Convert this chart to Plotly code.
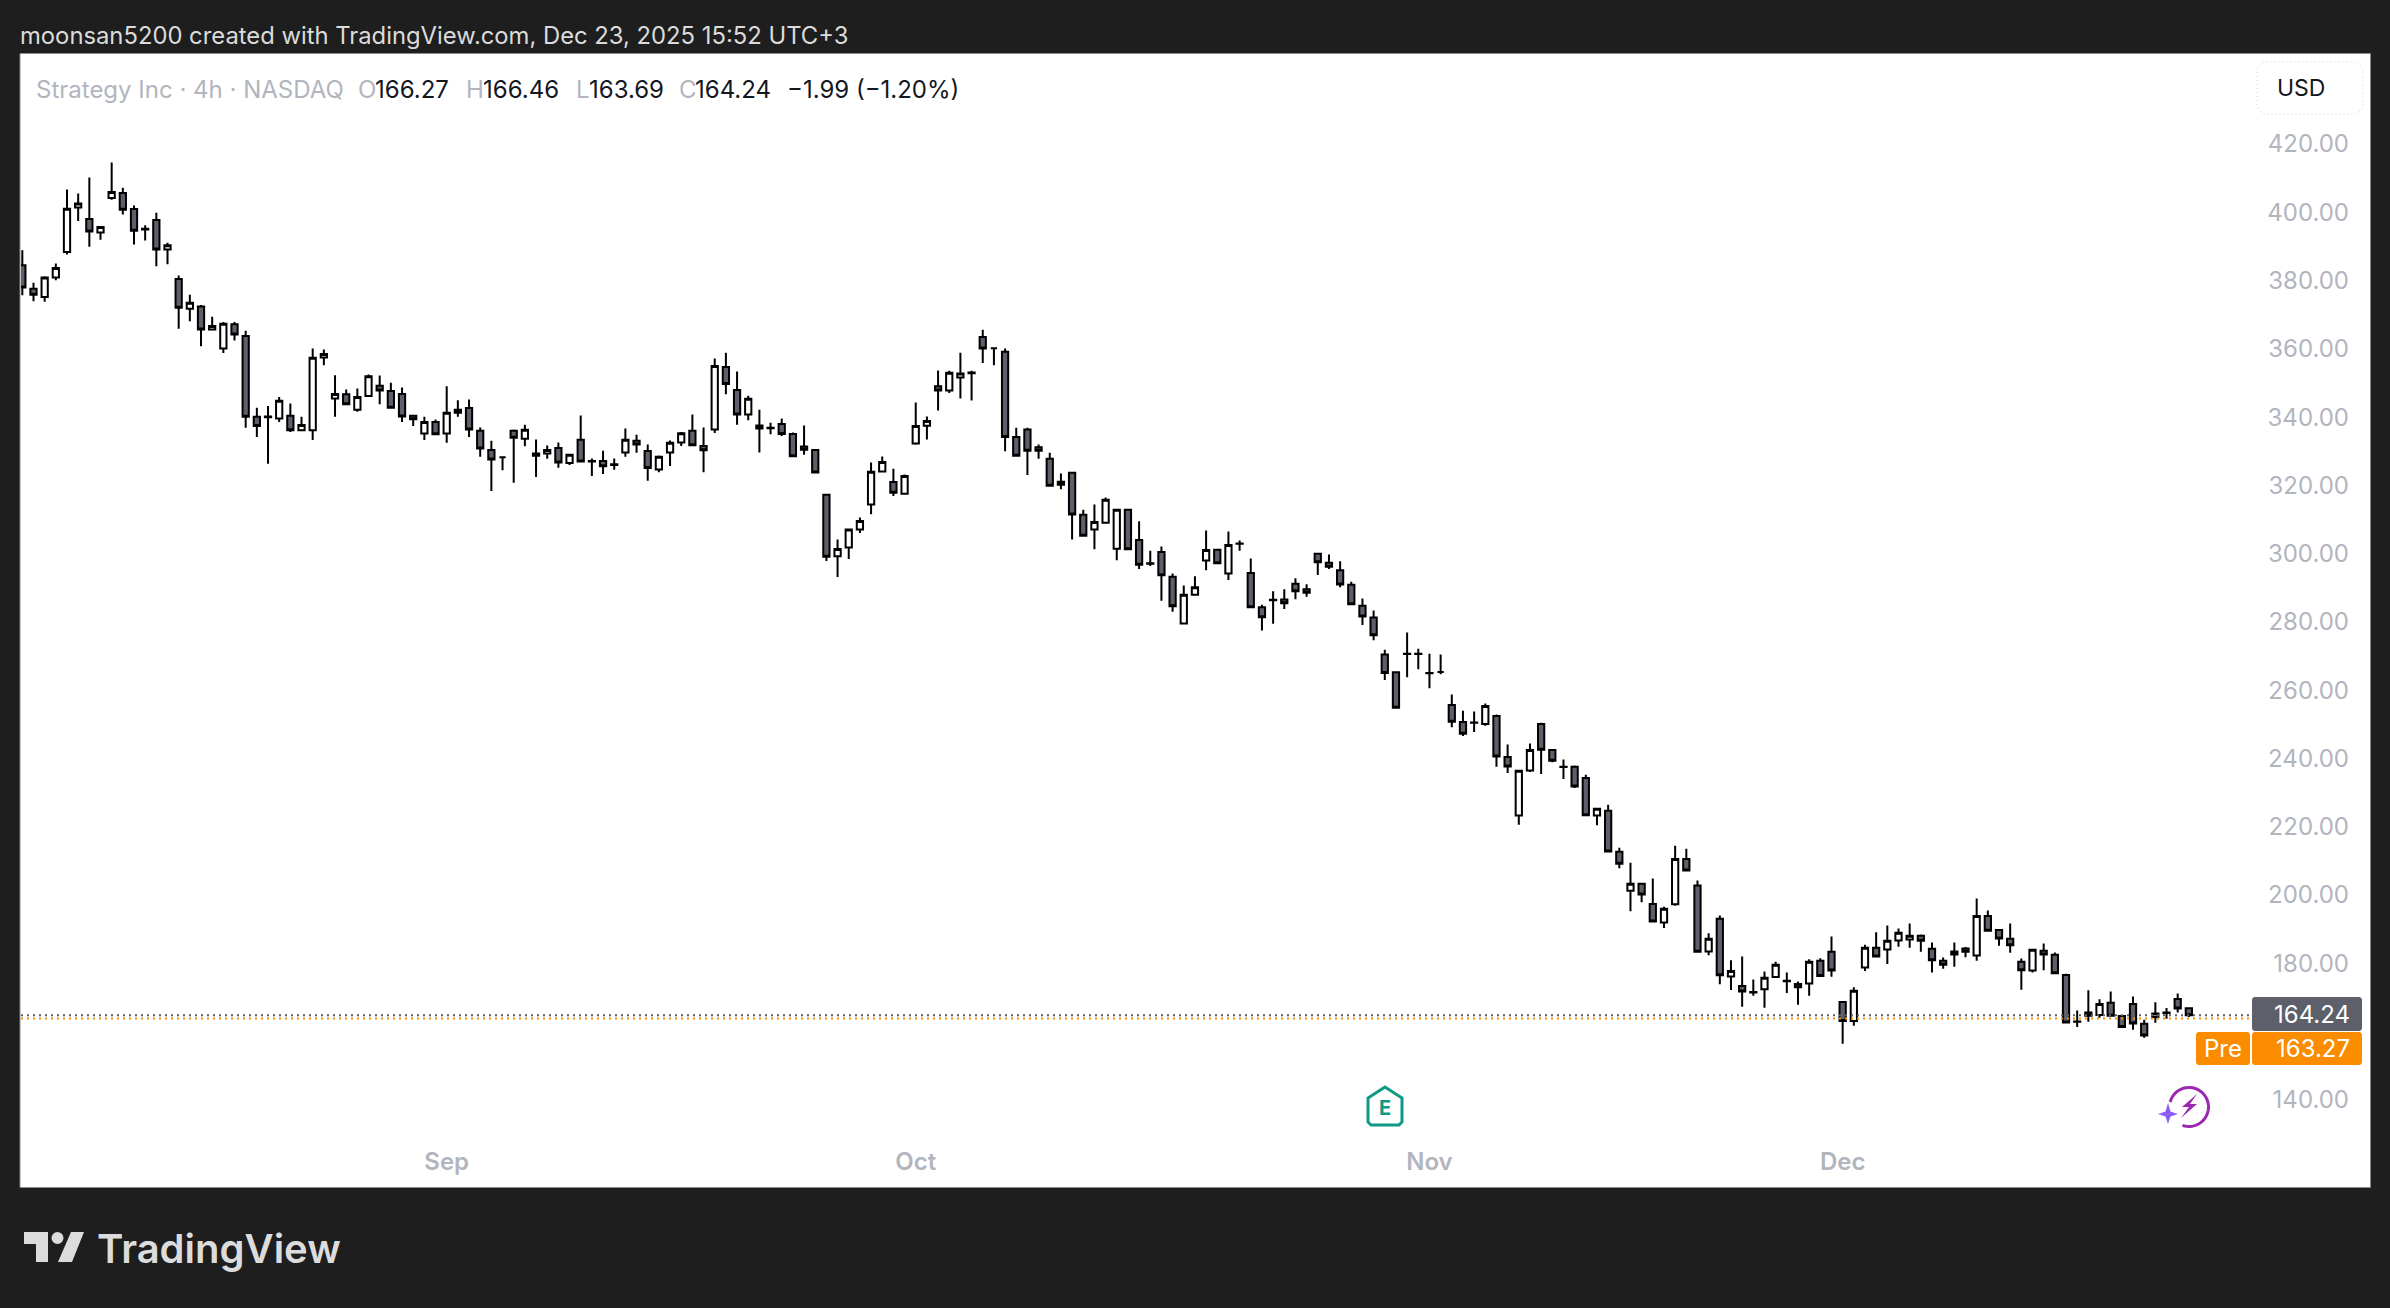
import math
import plotly.graph_objects as go

# ================================
# Data (4h bars)
# ================================
opens = [
    383.9, 377.0, 374.6, 380.3, 387.8, 400.8, 397.5, 393.5, 403.6, 405.1,
    400.4, 394.4, 397.2, 388.5, 379.9, 371.2, 371.8, 365.1, 359.5, 366.6,
    363.2, 339.5, 339.4, 339.0, 339.8, 335.6, 335.6, 356.9, 344.9, 346.1,
    341.6, 345.6, 348.6, 347.1, 346.2, 339.8, 334.6, 338.0, 334.6, 341.6,
    342.1, 335.4, 329.8, 327.7, 335.4, 333.1, 328.8, 328.8, 330.4, 326.0,
    332.8, 326.4, 326.6, 325.6, 329.1, 332.5, 329.5, 324.1, 329.1, 332.0,
    335.4, 331.0, 335.8, 354.1, 347.4, 340.2, 337.0, 336.2, 337.4, 334.5,
    330.8, 329.8, 316.7, 298.7, 301.2, 306.5, 313.8, 323.5, 320.4, 317.0,
    331.7, 336.9, 348.5, 347.2, 351.0, 352.3, 362.9, 359.6, 358.6, 333.6,
    335.8, 330.6, 327.2, 320.5, 323.1, 310.8, 306.5, 308.5, 300.9, 312.3,
    303.4, 296.6, 299.9, 292.7, 279.0, 287.4, 297.4, 300.6, 293.6, 302.3,
    293.8, 283.7, 285.8, 286.0, 290.6, 289.0, 299.4, 296.8, 294.6, 290.3,
    284.2, 280.7, 269.9, 264.7, 270.0, 270.0, 264.4, 264.8, 255.1, 250.1,
    249.9, 249.5, 251.9, 239.9, 222.7, 235.9, 249.5, 241.9, 236.9, 237.0,
    233.7, 222.7, 224.1, 212.1, 200.7, 202.7, 196.8, 191.4, 196.7, 210.0,
    202.2, 182.9, 192.5, 175.6, 172.8, 170.9, 171.8, 175.4, 174.2, 173.4,
    173.5, 180.2, 182.8, 168.1, 162.5, 178.2, 184.0, 183.5, 186.1, 186.4,
    187.5, 183.7, 180.2, 182.9, 183.8, 181.7, 193.3, 189.2, 186.6, 179.9,
    177.3, 183.1, 181.9, 176.0, 162.3, 165.0, 164.3, 167.9, 164.0, 167.5,
    161.7, 163.7, 164.9, 169.0, 166.27,
]
highs = [
    388.3, 378.8, 380.7, 384.4, 406.1, 404.9, 409.6, 395.3, 414.0, 406.6,
    401.4, 395.6, 399.3, 390.5, 380.9, 375.3, 372.3, 368.8, 367.3, 367.3,
    364.7, 342.2, 342.7, 345.3, 343.4, 339.5, 359.5, 359.2, 351.7, 347.5,
    347.8, 351.9, 351.6, 349.5, 348.1, 339.8, 339.5, 338.7, 348.5, 344.4,
    344.6, 336.4, 332.5, 327.9, 335.8, 337.2, 332.9, 331.1, 332.0, 328.7,
    339.9, 327.3, 329.6, 327.3, 336.1, 334.3, 331.4, 328.2, 332.6, 335.1,
    340.2, 336.4, 356.6, 358.3, 352.8, 345.7, 341.6, 337.8, 339.0, 334.9,
    337.0, 330.1, 317.0, 303.6, 306.8, 310.0, 326.1, 327.9, 324.3, 322.6,
    343.7, 339.6, 353.1, 353.0, 358.3, 353.0, 365.0, 359.8, 359.5, 336.3,
    336.3, 331.4, 329.0, 322.9, 323.2, 312.3, 313.8, 315.9, 312.5, 312.6,
    308.9, 300.3, 301.5, 293.6, 290.1, 292.8, 306.2, 300.6, 305.9, 303.3,
    298.0, 284.5, 288.4, 289.0, 292.2, 290.5, 299.7, 299.2, 297.2, 291.2,
    286.3, 282.8, 271.3, 264.8, 276.3, 271.6, 270.1, 269.9, 258.2, 253.4,
    253.2, 255.5, 252.3, 243.5, 235.8, 243.8, 249.9, 242.0, 239.1, 237.4,
    234.7, 225.0, 225.9, 213.3, 208.9, 202.8, 204.3, 196.0, 213.9, 213.0,
    203.7, 188.2, 193.4, 180.3, 181.4, 174.7, 177.0, 179.9, 176.7, 174.1,
    180.6, 180.9, 187.3, 168.1, 172.4, 184.9, 188.5, 190.5, 189.6, 191.1,
    187.9, 185.5, 181.1, 185.5, 184.2, 198.4, 194.9, 189.3, 191.1, 180.8,
    183.5, 185.2, 182.6, 176.4, 165.6, 171.5, 168.9, 171.2, 164.3, 169.7,
    162.9, 168.0, 166.3, 170.6, 166.46,
]
lows = [
    375.1, 373.4, 373.2, 379.5, 387.1, 396.9, 389.3, 391.4, 403.1, 398.8,
    390.0, 391.2, 383.6, 384.2, 365.3, 367.5, 360.2, 364.9, 358.2, 361.9,
    336.3, 333.6, 325.8, 338.0, 335.1, 335.6, 332.7, 354.6, 339.5, 343.1,
    341.0, 345.3, 343.2, 342.1, 338.0, 336.8, 332.7, 334.3, 331.9, 339.5,
    333.6, 327.8, 317.8, 323.9, 320.2, 330.9, 321.9, 327.2, 324.6, 325.4,
    326.3, 322.2, 322.8, 324.0, 327.8, 329.0, 320.8, 323.3, 325.1, 331.0,
    331.0, 323.3, 334.8, 346.1, 337.2, 338.5, 329.1, 334.4, 333.9, 327.8,
    328.4, 323.2, 297.3, 292.6, 297.9, 305.5, 311.0, 323.5, 316.3, 317.0,
    331.3, 332.9, 341.4, 346.5, 344.9, 344.3, 355.3, 354.6, 329.4, 328.0,
    322.5, 327.2, 319.0, 318.3, 303.6, 304.6, 300.7, 308.5, 297.5, 300.6,
    294.9, 295.8, 285.6, 282.4, 279.0, 287.3, 294.6, 296.6, 291.7, 300.3,
    283.7, 276.9, 278.9, 283.2, 286.1, 286.8, 293.2, 294.9, 289.6, 284.4,
    278.5, 274.1, 262.4, 254.3, 263.2, 265.6, 260.0, 264.1, 248.6, 246.0,
    247.2, 249.0, 237.0, 235.2, 220.0, 235.5, 234.9, 238.3, 233.4, 230.8,
    222.7, 219.9, 212.2, 207.3, 194.7, 197.3, 191.6, 189.8, 196.3, 206.5,
    182.8, 181.8, 173.3, 171.6, 166.7, 169.9, 166.4, 175.3, 170.7, 167.3,
    169.9, 175.6, 175.5, 155.9, 161.1, 177.2, 181.4, 179.2, 184.3, 184.0,
    182.8, 176.7, 177.8, 178.4, 181.2, 180.2, 188.7, 184.6, 182.5, 171.7,
    176.7, 177.4, 176.4, 162.0, 160.8, 162.3, 163.5, 163.8, 160.7, 160.0,
    157.6, 162.0, 163.2, 165.0, 163.69,
]
closes = [
    377.4, 375.3, 380.3, 383.1, 400.5, 402.0, 393.8, 395.1, 405.4, 400.2,
    394.0, 394.6, 388.5, 389.8, 371.5, 372.9, 365.1, 366.1, 366.8, 363.6,
    339.5, 336.8, 339.6, 344.2, 335.6, 337.1, 356.8, 357.9, 346.2, 343.2,
    345.3, 351.4, 347.2, 342.2, 339.6, 338.8, 338.0, 334.4, 340.7, 340.7,
    335.8, 330.2, 327.0, 327.7, 333.4, 335.7, 328.1, 329.8, 326.1, 328.4,
    326.4, 326.6, 325.0, 325.4, 332.8, 331.4, 324.5, 327.8, 331.9, 334.7,
    331.2, 329.7, 354.4, 349.1, 340.2, 344.8, 336.1, 336.3, 334.5, 328.0,
    329.9, 323.2, 298.5, 300.8, 306.5, 309.0, 323.4, 326.3, 317.3, 322.2,
    336.8, 338.3, 347.2, 352.4, 352.2, 352.5, 359.5, 359.6, 333.6, 328.1,
    329.6, 329.6, 319.3, 319.6, 310.9, 304.7, 308.7, 315.2, 312.3, 300.7,
    296.2, 296.5, 293.1, 284.0, 287.4, 289.6, 300.5, 296.6, 302.0, 302.4,
    283.7, 280.8, 285.9, 284.9, 288.4, 288.0, 296.9, 295.6, 290.4, 284.6,
    281.0, 275.5, 264.5, 254.3, 270.1, 270.1, 264.5, 264.8, 250.2, 246.7,
    250.0, 254.8, 240.0, 237.1, 235.8, 241.9, 242.0, 238.8, 237.0, 231.2,
    222.8, 224.7, 212.2, 208.6, 202.7, 199.6, 191.7, 195.4, 210.0, 206.6,
    182.8, 186.6, 175.9, 177.2, 171.2, 171.0, 175.2, 179.0, 174.3, 172.4,
    179.9, 175.7, 177.3, 162.5, 171.4, 184.0, 181.4, 186.0, 188.4, 187.5,
    186.0, 180.3, 179.0, 182.0, 182.8, 193.3, 189.0, 186.7, 184.7, 177.4,
    183.4, 182.0, 176.5, 162.1, 162.4, 164.1, 167.5, 164.1, 160.8, 161.8,
    158.3, 164.7, 165.0, 166.2, 164.24,
]
bars = list(range(len(closes)))

month_bars = [38, 80, 126, 163]
month_labels = ['Sep', 'Oct', 'Nov', 'Dec']
price_ticks = [140, 180, 200, 220, 240, 260, 280, 300, 320, 340, 360, 380, 400, 420]
last_price = 164.24
pre_price = 163.27

# ================================
# Page geometry and colours
# ================================
W, H = 2390, 1308
L, R, T, B = 21, 2370, 54, 1187
DARK = '#1e1e1e'
GREY_TXT = '#b2b5be'
BODY = '#5d606b'
ORANGE = '#fb8c00'
FONT = 'Inter'


def fx(px):
    return (px - L) / (R - L)


def fy(py):
    return (B - py) / (B - T)


def poly(points, close=True):
    d = 'M' + ' L'.join(f'{fx(x):.5f},{fy(y):.5f}' for x, y in points)
    return d + (' Z' if close else '')


def box(x0, y0, x1, y1, fill=None, line=None, width=0, dash=None, r=3, layer='above'):
    # rounded rectangle drawn in page pixels
    pts = []
    for cx, cy, a0 in [(x1 - r, y0 + r, -90), (x1 - r, y1 - r, 0), (x0 + r, y1 - r, 90), (x0 + r, y0 + r, 180)]:
        for k in range(7):
            a = math.radians(a0 + 15 * k)
            pts.append((cx + r * math.cos(a), cy + r * math.sin(a)))
    return dict(type='path', xref='paper', yref='paper', path=poly(pts), fillcolor=fill or 'rgba(0,0,0,0)',
                line=dict(color=line or 'rgba(0,0,0,0)', width=width, dash=dash or 'solid'), layer=layer)


def label(x, y, text, size=24, color='#131722', anchor='left', weight=400):
    # annotations carry about 2px of padding
    shift = {'left': -2, 'right': 2, 'center': 0}[anchor]
    return dict(xref='paper', yref='paper', x=fx(x + shift), y=fy(y), text=text, showarrow=False, xanchor=anchor,
                yanchor='middle', font=dict(family=FONT, size=size, color=color, weight=weight))


# ================================
# Chart
# ================================
fig = go.Figure(go.Candlestick(
    x=bars, open=opens, high=highs, low=lows, close=closes, hoverinfo='skip',
    whiskerwidth=0,
    increasing=dict(fillcolor='#ffffff', line=dict(color='#000000', width=2)),
    decreasing=dict(fillcolor=BODY, line=dict(color='#000000', width=2)),
))

shapes = [
    # page frame
    dict(type='rect', xref='paper', yref='paper', x0=fx(20), x1=fx(2370.5), y0=fy(1187.5), y1=fy(53.5),
         fillcolor='#ffffff', line=dict(color='#8a8a8a', width=1), layer='below'),
    # last price lines
    dict(type='line', xref='paper', yref='y', x0=0, x1=fx(2250), y0=last_price, y1=last_price,
         line=dict(color=BODY, width=2, dash='2px,4px')),
    dict(type='line', xref='paper', yref='y', x0=0, x1=fx(2250), y0=pre_price, y1=pre_price,
         line=dict(color=ORANGE, width=2, dash='2px,4px')),
    # price tags
    box(2252, 997, 2362, 1031, fill=BODY),
    box(2252, 1032, 2362, 1065, fill=ORANGE),
    box(2196, 1032, 2250, 1065, fill=ORANGE),
    # currency button
    box(2257, 62, 2363, 114, fill='#ffffff', line='#d1d4dc', width=1, dash='1px,3px', r=10),
    # earnings tag
    dict(type='path', xref='paper', yref='paper',
         path=poly([(1368, 1098), (1385, 1087), (1402, 1098), (1402, 1122), (1399, 1125), (1371, 1125), (1368, 1122)]),
         fillcolor='#ffffff', line=dict(color='#0f9a86', width=3)),
    # logo
    dict(type='path', xref='paper', yref='paper',
         path=poly([(24, 1232), (48, 1232), (48, 1262), (36, 1262), (36, 1244), (24, 1244)]),
         fillcolor='#dcdcdc', line=dict(width=0)),
    dict(type='circle', xref='paper', yref='paper', x0=fx(51.5), x1=fx(63.5), y0=fy(1244), y1=fy(1232),
         fillcolor='#dcdcdc', line=dict(width=0)),
    dict(type='path', xref='paper', yref='paper',
         path=poly([(71, 1232), (84, 1232), (72, 1262), (58, 1262)]),
         fillcolor='#dcdcdc', line=dict(width=0)),
]

# lightning icon: open ring, bolt and star
cx, cy, rad = 2189, 1107, 19.5
ring = []
for k in range(0, 46):
    a = math.radians(165 - 6.1 * k)
    ring.append((cx + rad * math.cos(a), cy - rad * math.sin(a)))
shapes.append(dict(type='path', xref='paper', yref='paper', path=poly(ring, close=False),
                   line=dict(color='#9c27b0', width=3), fillcolor='rgba(0,0,0,0)'))
shapes.append(dict(type='path', xref='paper', yref='paper',
                   path=poly([(2197, 1094), (2182, 1107), (2189, 1107), (2181, 1118), (2197, 1104), (2190, 1104)]),
                   fillcolor='#9c27b0', line=dict(width=0)))
star = [(2168, 1103), (2170.5, 1111.5), (2178, 1114), (2170.5, 1116.5), (2168, 1124), (2165.5, 1116.5), (2158, 1114), (2165.5, 1111.5)]
shapes.append(dict(type='path', xref='paper', yref='paper', path=poly(star),
                   fillcolor='#8b5cf6', line=dict(width=0)))

annotations = [
    label(20, 36, 'moonsan5200 created with TradingView.com, Dec 23, 2025 15:52 UTC+3', size=23.8, color='#dbdbdb'),
    label(36, 90, 'Strategy Inc · 4h · NASDAQ', color=GREY_TXT),
    label(358, 90, 'O', color=GREY_TXT),
    label(375, 90, '166.27'),
    label(466, 90, 'H', color=GREY_TXT),
    label(483, 90, '166.46'),
    label(576, 90, 'L', color=GREY_TXT),
    label(589, 90, '163.69'),
    label(679, 90, 'C', color=GREY_TXT),
    label(695, 90, '164.24'),
    label(787, 90, '−1.99 (−1.20%)'),
    label(2301, 88, 'USD', size=23, anchor='center'),
    label(2350, 1014, '164.24', color='#ffffff', anchor='right'),
    label(2350, 1048, '163.27', color='#ffffff', anchor='right'),
    label(2223, 1048, 'Pre', color='#ffffff', anchor='center'),
    label(1385, 1108, 'E', size=20, color='#0f9a86', anchor='center', weight=700),
    label(97, 1248, 'TradingView', size=40, color='#dcdcdc', weight=600),
]

fig.update_layout(
    width=W, height=H, autosize=False, showlegend=False,
    margin=dict(l=L, r=W - R, t=T, b=H - B, pad=0),
    paper_bgcolor=DARK, plot_bgcolor='rgba(0,0,0,0)',
    boxgap=0.2, shapes=shapes, annotations=annotations,
    xaxis=dict(
        range=[-0.119, 210.22], rangeslider=dict(visible=False), showgrid=False, zeroline=False, showline=False,
        tickmode='array', tickvals=month_bars, ticktext=month_labels, ticks='', ticklabelposition='inside',
        tickfont=dict(family=FONT, size=24, color=GREY_TXT, weight=600), ticklabelstandoff=9,
    ),
    yaxis=dict(
        side='right', range=[113.9, 445.8], showgrid=False, zeroline=False, showline=False,
        tickmode='array', tickvals=price_ticks, tickformat='.2f', ticks='', ticklabelposition='inside',
        tickfont=dict(family=FONT, size=24, color=GREY_TXT), ticklabelstandoff=18, ticklabelshift=2,
    ),
)

fig.write_html('out.html', config={'displayModeBar': False},
               post_script="document.body.style.margin='0';document.body.style.background='" + DARK + "';")
